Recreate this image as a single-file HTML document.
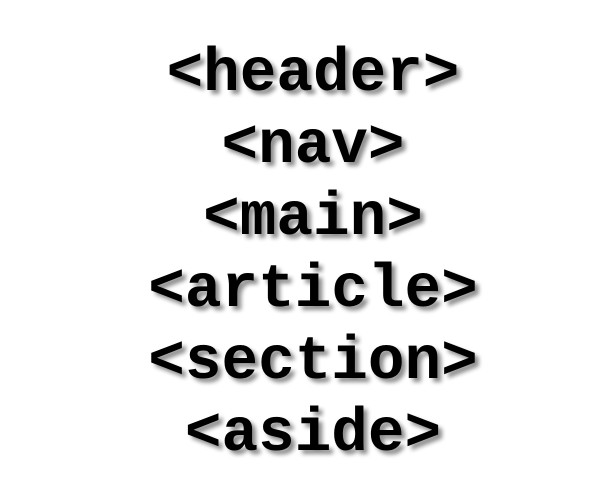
<!DOCTYPE html>
<html><head><meta charset="utf-8"><style>
html,body{margin:0;padding:0;background:#fff;width:606px;height:481px;overflow:hidden}
svg{display:block}
text{font-family:"Liberation Mono","Courier New",monospace;font-weight:bold;font-size:61px;fill:#000}
</style></head><body>
<svg width="606" height="481" viewBox="0 0 606 481">
<defs><filter id="s" x="-10%" y="-30%" width="120%" height="160%">
<feGaussianBlur in="SourceAlpha" stdDeviation="2"/>
<feOffset dx="4" dy="4" result="b"/>
<feComponentTransfer><feFuncA type="linear" slope="0.45"/></feComponentTransfer>
<feMerge><feMergeNode/><feMergeNode in="SourceGraphic"/></feMerge>
</filter></defs>
<g filter="url(#s)" text-anchor="middle">
<text x="313" y="90">&lt;header&gt;</text>
<text x="313" y="162">&lt;nav&gt;</text>
<text x="313" y="234">&lt;main&gt;</text>
<text x="313" y="306">&lt;article&gt;</text>
<text x="313" y="378">&lt;section&gt;</text>
<text x="313" y="450">&lt;aside&gt;</text>
</g>
</svg>
</body></html>
